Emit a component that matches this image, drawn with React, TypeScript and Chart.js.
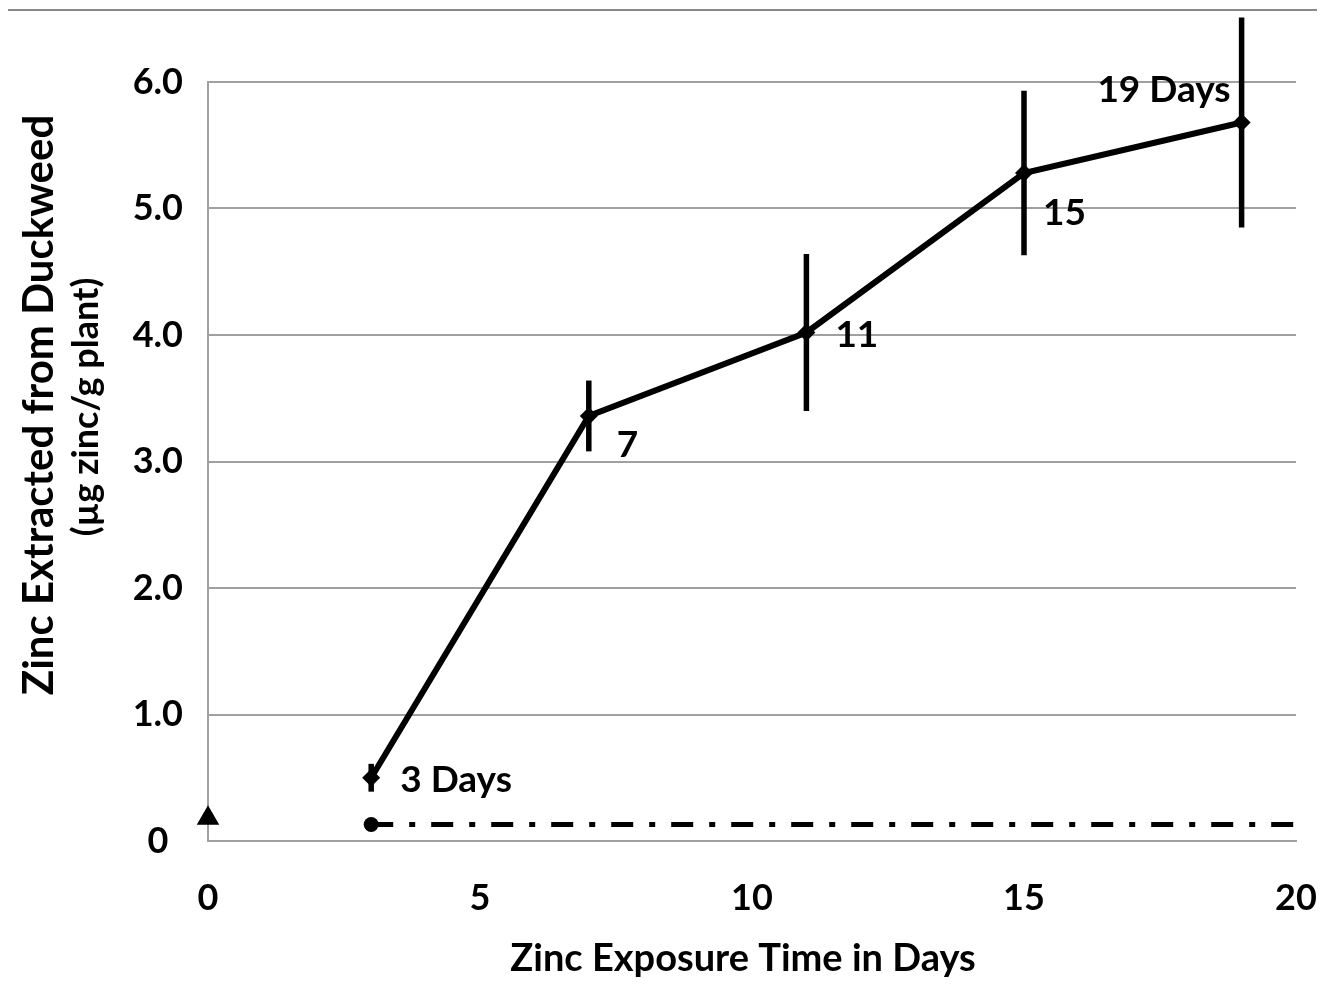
import React, { useEffect, useRef } from 'react';
import { Chart, registerables } from 'chart.js';

Chart.register(...registerables);

// ---- data ----
const days = [3, 7, 11, 15, 19];
const zincMeans = [0.5, 3.36, 4.02, 5.28, 5.68];
const zincErrors = [0.11, 0.28, 0.62, 0.65, 0.83];
const pointLabels = ['3 Days', '7', '11', '15', '19 Days'];
const controlDays = [0];
const controlValues = [0.18];
const baselineDays = [3, 20];
const baselineValues = [0.13, 0.13];
const xTicksStep = 5;
const yTicksStep = 1;
const yTitleLines = ['Zinc Extracted from Duckweed', '(µg zinc/g plant)'];
const xTitle = 'Zinc Exposure Time in Days';

// ---- style ----
const FONT = 'Lato, "Open Sans", sans-serif';
const TICK_SIZE = 36;
const LABEL_SIZE = 37;
const XTITLE_SIZE = 38;
const YTITLE_SIZES = [42, 36];
const GRID = '#a0a0a0';
const labelOffsets = [
  { dx: 29, dy: 14, align: 'left' },
  { dx: 28, dy: 41, align: 'left' },
  { dx: 29, dy: 15, align: 'left' },
  { dx: 19, dy: 52, align: 'left' },
  { dx: -11, dy: -20, align: 'right' },
];

const decorPlugin = {
  id: 'decor',
  beforeDraw(chart: any) {
    const { ctx, width, height } = chart;
    ctx.save();
    ctx.fillStyle = '#ffffff';
    ctx.fillRect(0, 0, width, height);
    ctx.strokeStyle = '#898989';
    ctx.lineWidth = 2;
    ctx.beginPath();
    ctx.moveTo(1, height);
    ctx.lineTo(1, 2);
    ctx.lineTo(width, 2);
    ctx.stroke();
    ctx.restore();
  },
  afterDatasetsDraw(chart: any) {
    const { ctx } = chart;
    const yScale = chart.scales.y;
    const meta = chart.getDatasetMeta(0);
    ctx.save();
    ctx.strokeStyle = '#000';
    ctx.lineWidth = 5.5;
    ctx.lineCap = 'butt';
    meta.data.forEach((pt: any, i: number) => {
      const top = yScale.getPixelForValue(zincMeans[i] + zincErrors[i]);
      const bot = yScale.getPixelForValue(zincMeans[i] - zincErrors[i]);
      ctx.beginPath();
      ctx.moveTo(pt.x, top);
      ctx.lineTo(pt.x, bot);
      ctx.stroke();
    });
    ctx.fillStyle = '#000';
    ctx.font = `bold ${LABEL_SIZE}px ${FONT}`;
    ctx.textBaseline = 'alphabetic';
    meta.data.forEach((pt: any, i: number) => {
      const o = labelOffsets[i];
      ctx.textAlign = o.align;
      ctx.fillText(pointLabels[i], pt.x + o.dx, pt.y + o.dy);
    });
    ctx.restore();
  },
  afterDraw(chart: any) {
    const { ctx } = chart;
    ctx.save();
    ctx.fillStyle = '#000';
    ctx.textAlign = 'center';
    ctx.textBaseline = 'alphabetic';
    ctx.font = `bold ${XTITLE_SIZE}px ${FONT}`;
    ctx.fillText(xTitle, 737, 963);
    ctx.translate(0, 397);
    ctx.rotate(-Math.PI / 2);
    ctx.font = `bold ${YTITLE_SIZES[0]}px ${FONT}`;
    ctx.fillText(yTitleLines[0], 0, 47);
    ctx.font = `bold ${YTITLE_SIZES[1]}px ${FONT}`;
    ctx.fillText(yTitleLines[1], -2, 92);
    ctx.restore();
  },
};

export default function App() {
  const ref = useRef<HTMLCanvasElement>(null);
  useEffect(() => {
    if (!ref.current) return;
    const chart = new Chart(ref.current, {
      type: 'line',
      data: {
        datasets: [
          {
            data: days.map((d, i) => ({ x: d, y: zincMeans[i] })),
            borderColor: '#000',
            backgroundColor: '#000',
            borderWidth: 6,
            pointStyle: 'rectRot',
            pointRadius: 9,
            pointBackgroundColor: '#000',
            pointBorderColor: '#000',
            pointBorderWidth: 0,
            clip: false,
          },
          {
            data: controlDays.map((d, i) => ({ x: d, y: controlValues[i] })),
            showLine: false,
            pointStyle: 'triangle',
            pointRadius: 13,
            pointBackgroundColor: '#000',
            pointBorderColor: '#000',
            pointBorderWidth: 0,
            clip: false,
          },
          {
            data: baselineDays.map((d, i) => ({ x: d, y: baselineValues[i] })),
            borderColor: '#000',
            borderWidth: 5,
            borderDash: [22, 16, 6, 16],
            pointStyle: 'circle',
            pointRadius: [7.5, 0],
            pointBackgroundColor: '#000',
            pointBorderColor: '#000',
            pointBorderWidth: 0,
            clip: false,
          },
        ],
      },
      options: {
        animation: false,
        responsive: false,
        layout: { padding: { left: 0, right: 29, top: 74, bottom: 0 } },
        plugins: { legend: { display: false }, tooltip: { enabled: false } },
        scales: {
          x: {
            type: 'linear',
            min: 0,
            max: 20,
            afterFit: (s: any) => {
              s.height = 156;
              s.paddingLeft = 0;
              s.paddingRight = 0;
            },
            grid: { display: false },
            border: { display: true, color: GRID, width: 2 },
            ticks: {
              stepSize: xTicksStep,
              color: '#000',
              padding: 28,
              maxRotation: 0,
              font: { family: FONT, size: TICK_SIZE, weight: 'bold' },
              callback: (v: any) => String(v),
            },
          },
          y: {
            min: 0,
            max: 6,
            afterFit: (s: any) => {
              s.width = 202;
              s.paddingTop = 0;
              s.paddingBottom = 0;
            },
            grid: { color: GRID, lineWidth: 2, drawTicks: false },
            border: { display: true, color: GRID, width: 2 },
            ticks: {
              stepSize: yTicksStep,
              color: '#000',
              padding: 25,
              crossAlign: 'center',
              font: { family: FONT, size: TICK_SIZE, weight: 'bold' },
              callback: (v: any) => (Number(v) === 0 ? '0' : Number(v).toFixed(1)),
            },
          },
        },
      },
      plugins: [decorPlugin],
    } as any);
    return () => chart.destroy();
  }, []);
  return (
    <div style={{ marginLeft: -2, width: 1319, height: 989 }}>
      <canvas ref={ref} width={1319} height={989} style={{ display: 'block' }} />
    </div>
  );
}
